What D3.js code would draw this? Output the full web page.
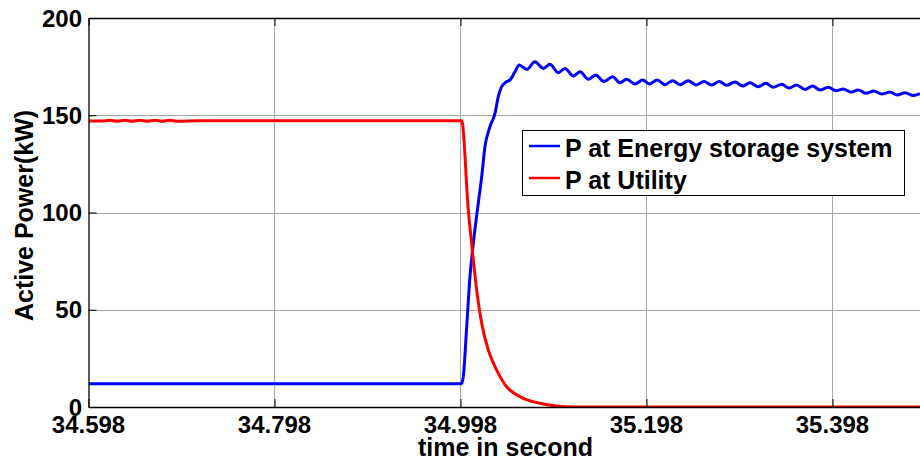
<!DOCTYPE html>
<html>
<head>
<meta charset="utf-8">
<script src="https://cdn.jsdelivr.net/npm/d3@7"></script>
<style>
  html, body { margin: 0; padding: 0; background: #fff; }
  svg { display: block; font-family: "Liberation Sans", Arial, sans-serif; font-weight: bold; }
</style>
</head>
<body>
<svg id="chart" width="920" height="463"></svg>
<script>
// ---- data ----
const xTicks = [34.598, 34.798, 34.998, 35.198, 35.398];
const yTicks = [0, 50, 100, 150, 200];
const seriesNames = ["P at Energy storage system", "P at Utility"];
const seriesColors = ["#0000ff", "#ff0000"];

// P at Energy storage system: [time, kW]
const essTime = [34.598, 34.9993, 35.0010, 35.0047, 35.0082, 35.0118, 35.0171, 35.0208, 35.0243, 35.0297,
  35.0351, 35.0386, 35.0423, 35.0477, 35.0512, 35.0566, 35.0612, 35.0692, 35.0781, 35.0870,
  35.0942, 35.1032, 35.1104, 35.1193, 35.1265, 35.1354, 35.1434, 35.1523, 35.1617, 35.1695,
  35.1767, 35.1856, 35.1939, 35.2010, 35.2096, 35.2179, 35.2262, 35.2340, 35.2429, 35.2512,
  35.2598, 35.2681, 35.2763, 35.2842, 35.2932, 35.3014, 35.3093, 35.3182, 35.3265, 35.3343,
  35.3434, 35.3515, 35.3595, 35.3684, 35.3767, 35.3846, 35.3935, 35.4018, 35.4096, 35.4176,
  35.4257, 35.4340, 35.4426, 35.4509, 35.4598, 35.4677, 35.4760, 35.4849, 35.4921];
const essPower = [12, 12, 15.6, 41.3, 67, 84.2, 104.7, 118.4, 133.8, 144.1,
  151, 159.5, 164.7, 167.3, 168.1, 172.4, 175.8, 173.6, 177.5, 174.1,
  176.2, 171.9, 174.1, 170.2, 172.4, 168.5, 170.7, 167.3, 169.8, 166.7,
  168.5, 166.1, 168.1, 166.1, 168.1, 165.7, 167.8, 165.7, 167.8, 165.6,
  167.4, 165.6, 167.4, 165.4, 167.1, 165.0, 166.7, 164.7, 166.4, 164.4,
  165.9, 164.0, 165.6, 163.3, 165.0, 163.0, 164.4, 162.6, 163.5, 161.9,
  163.0, 161.3, 162.5, 160.9, 161.9, 160.4, 161.6, 160.1, 161.1];

// P at Utility: [time, kW]
const utilTime = [34.598, 34.6127, 34.6208, 34.6288, 34.6369, 34.6450, 34.6530, 34.6611, 34.6692, 34.6772,
  34.6853, 34.6933, 34.7157, 34.9993, 35.0064, 35.0107, 35.0154, 35.0208, 35.0279, 35.0369,
  35.0477, 35.0620, 35.0835, 35.1014, 35.1211, 35.4921];
const utilPower = [147, 147, 147.4, 146.9, 147.4, 146.9, 147.4, 146.9, 147.4, 146.9,
  147.4, 146.9, 147.2, 147.2, 101.3, 80.7, 60.2, 43, 29.3, 19,
  10.4, 5.3, 1.9, 0.5, 0, 0];

// ---- layout ----
const svg = d3.select("#chart");
const pL = 88.5, pT = 18, pB = 407, pR = 925;

const x = d3.scaleLinear().domain([34.598, 35.4975]).range([pL, pR]);
const y = d3.scaleLinear().domain([0, 200]).range([pB, pT]);

svg.append("rect").attr("x", 0).attr("y", 0).attr("width", 920).attr("height", 463).attr("fill", "#fff");

svg.append("defs").append("clipPath").attr("id", "plotclip")
  .append("rect").attr("x", pL).attr("y", pT).attr("width", pR - pL).attr("height", pB - pT);

// grid
const grid = svg.append("g");
grid.selectAll("line.vx").data(xTicks.slice(1)).enter().append("line")
  .attr("x1", d => Math.round(x(d)) + 0.5).attr("x2", d => Math.round(x(d)) + 0.5)
  .attr("y1", pT).attr("y2", pB)
  .attr("stroke", "#a8a8a8").attr("stroke-width", 1);
grid.selectAll("line.hy").data(yTicks.slice(1, -1)).enter().append("line")
  .attr("y1", d => Math.round(y(d)) + 0.5).attr("y2", d => Math.round(y(d)) + 0.5)
  .attr("x1", pL).attr("x2", pR)
  .attr("stroke", "#a8a8a8").attr("stroke-width", 1);

// axes (ticks inward)
const xAxisB = d3.axisBottom(x).tickValues(xTicks).tickSize(-8).tickSizeOuter(0).tickFormat("");
const xAxisT = d3.axisTop(x).tickValues(xTicks).tickSize(-8).tickSizeOuter(0).tickFormat("");
const yAxisL = d3.axisLeft(y).tickValues(yTicks).tickSize(-8).tickSizeOuter(0).tickFormat("");

function styleAxis(g) {
  g.selectAll("path").attr("stroke", "#000").attr("stroke-width", 1.3);
  g.selectAll("line").attr("stroke", "#000").attr("stroke-width", 1);
}

// lines
const line = d3.line().x(d => x(d[0])).y(d => y(d[1])).curve(d3.curveMonotoneX);
const ess = essTime.map((t, i) => [t, essPower[i]]);
const util = utilTime.map((t, i) => [t, utilPower[i]]);
const plot = svg.append("g").attr("clip-path", "url(#plotclip)");
plot.append("path").datum(ess).attr("d", line).attr("fill", "none")
  .attr("stroke", seriesColors[0]).attr("stroke-width", 3).attr("stroke-linejoin", "round");
plot.append("path").datum(util).attr("d", line).attr("fill", "none")
  .attr("stroke", seriesColors[1]).attr("stroke-width", 3).attr("stroke-linejoin", "round");

svg.append("g").attr("transform", `translate(0,${pB})`).call(xAxisB).call(styleAxis);
svg.append("g").attr("transform", `translate(0,${pT})`).call(xAxisT).call(styleAxis);
svg.append("g").attr("transform", `translate(${pL},0)`).call(yAxisL).call(styleAxis);

// tick labels
svg.append("g").selectAll("text").data(xTicks).enter().append("text")
  .attr("x", d => x(d)).attr("y", 433)
  .attr("text-anchor", "middle").attr("font-size", 24).attr("fill", "#000")
  .text(d => d3.format(".3f")(d));
svg.append("g").selectAll("text").data(yTicks).enter().append("text")
  .attr("x", 82).attr("y", d => y(d) + 8.5)
  .attr("text-anchor", "end").attr("font-size", 24).attr("fill", "#000")
  .text(d => d);

// axis titles
svg.append("text").attr("x", 505.5).attr("y", 456).attr("text-anchor", "middle")
  .attr("font-size", 25).attr("fill", "#000").text("time in second");
svg.append("text").attr("transform", "translate(32.5,215.5) rotate(-90)").attr("text-anchor", "middle")
  .attr("font-size", 25).attr("fill", "#000").text("Active Power(kW)");

// legend
const lg = svg.append("g");
lg.append("rect").attr("x", 522.5).attr("y", 130.5).attr("width", 382).attr("height", 65)
  .attr("fill", "#fff").attr("stroke", "#000").attr("stroke-width", 1);
const rows = lg.selectAll("g.row").data(seriesNames).enter().append("g")
  .attr("transform", (d, i) => `translate(0,${146 + i * 32})`);
rows.append("line").attr("x1", 529).attr("x2", 560).attr("y1", 0).attr("y2", 0)
  .attr("stroke", (d, i) => seriesColors[i]).attr("stroke-width", 2.5);
rows.append("text").attr("x", 565).attr("y", 10.5).attr("font-size", 25).attr("fill", "#000")
  .text(d => d);
</script>
</body>
</html>
